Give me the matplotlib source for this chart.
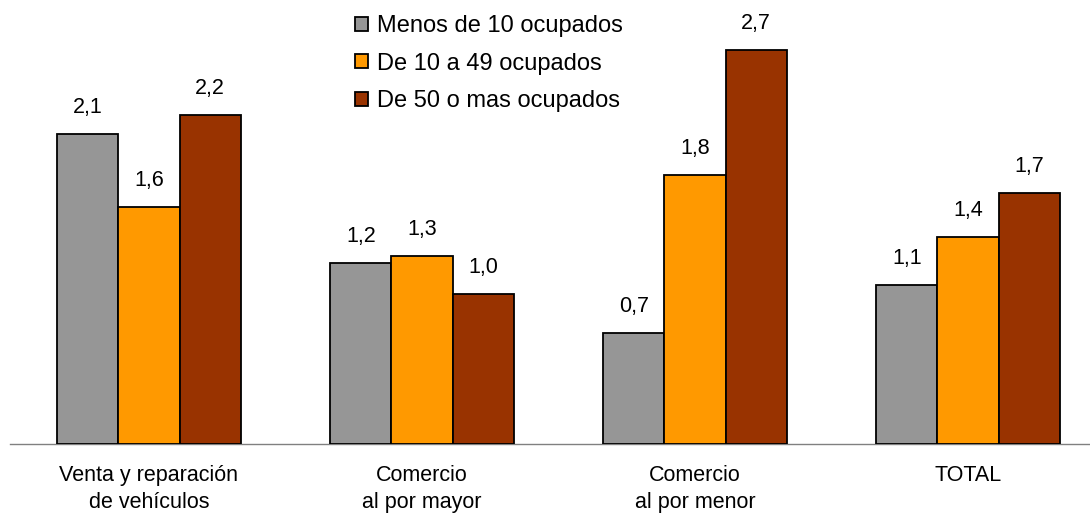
import numpy as np
import matplotlib.pyplot as plt
from matplotlib.patches import Patch

# =========================
# DATA
# =========================
categories = ["Venta y reparación\nde vehículos", "Comercio\nal por mayor",
              "Comercio\nal por menor", "TOTAL"]
series_names = ["Menos de 10 ocupados", "De 10 a 49 ocupados", "De 50 o mas ocupados"]
small = [2.12, 1.24, 0.76, 1.09]
medium = [1.62, 1.29, 1.84, 1.42]
large = [2.25, 1.03, 2.70, 1.72]
small_labels = ["2,1", "1,2", "0,7", "1,1"]
medium_labels = ["1,6", "1,3", "1,8", "1,4"]
large_labels = ["2,2", "1,0", "2,7", "1,7"]

COLORS = ["#969696", "#FF9900", "#993300"]
FONT = "Liberation Sans"

plt.rcParams["font.family"] = [FONT, "DejaVu Sans"]

fig = plt.figure(figsize=(10.9, 5.13), dpi=100)
ax = fig.add_axes([10 / 1090, 69 / 513, 1080 / 1090, 444 / 513])

x = np.arange(len(categories))
w = 0.224
series = [small, medium, large]
labels = [small_labels, medium_labels, large_labels]

for i, (vals, labs) in enumerate(zip(series, labels)):
    xs = x + (i - 1) * w
    ax.bar(xs, vals, width=w, color=COLORS[i], edgecolor="black",
           linewidth=1.3, label=series_names[i], zorder=3)
    for xi, v, t in zip(xs, vals, labs):
        ax.text(xi, v + 0.11, t, ha="center", va="bottom", fontsize=15.5)

ax.set_xlim(-0.509, 3.447)
ax.set_ylim(0, 3.04)

for s in ["top", "right", "left"]:
    ax.spines[s].set_visible(False)
ax.spines["bottom"].set_color("#808080")
ax.spines["bottom"].set_linewidth(1.0)
ax.set_yticks([])
ax.set_xticks(x)
ax.set_xticklabels(categories, fontsize=15.5, linespacing=1.4)
ax.tick_params(axis="x", length=0, pad=15)

handles = [Patch(facecolor=c, edgecolor="black", linewidth=1.3) for c in COLORS]
ax.legend(handles, series_names, loc="upper left",
          bbox_to_anchor=(345 / 1080, 1 - 15 / 444),
          frameon=False, fontsize=17, handlelength=0.55, handleheight=0.55,
          handletextpad=0.4, labelspacing=0.66, borderaxespad=0, borderpad=0)

fig.savefig("out.png", dpi=100)
